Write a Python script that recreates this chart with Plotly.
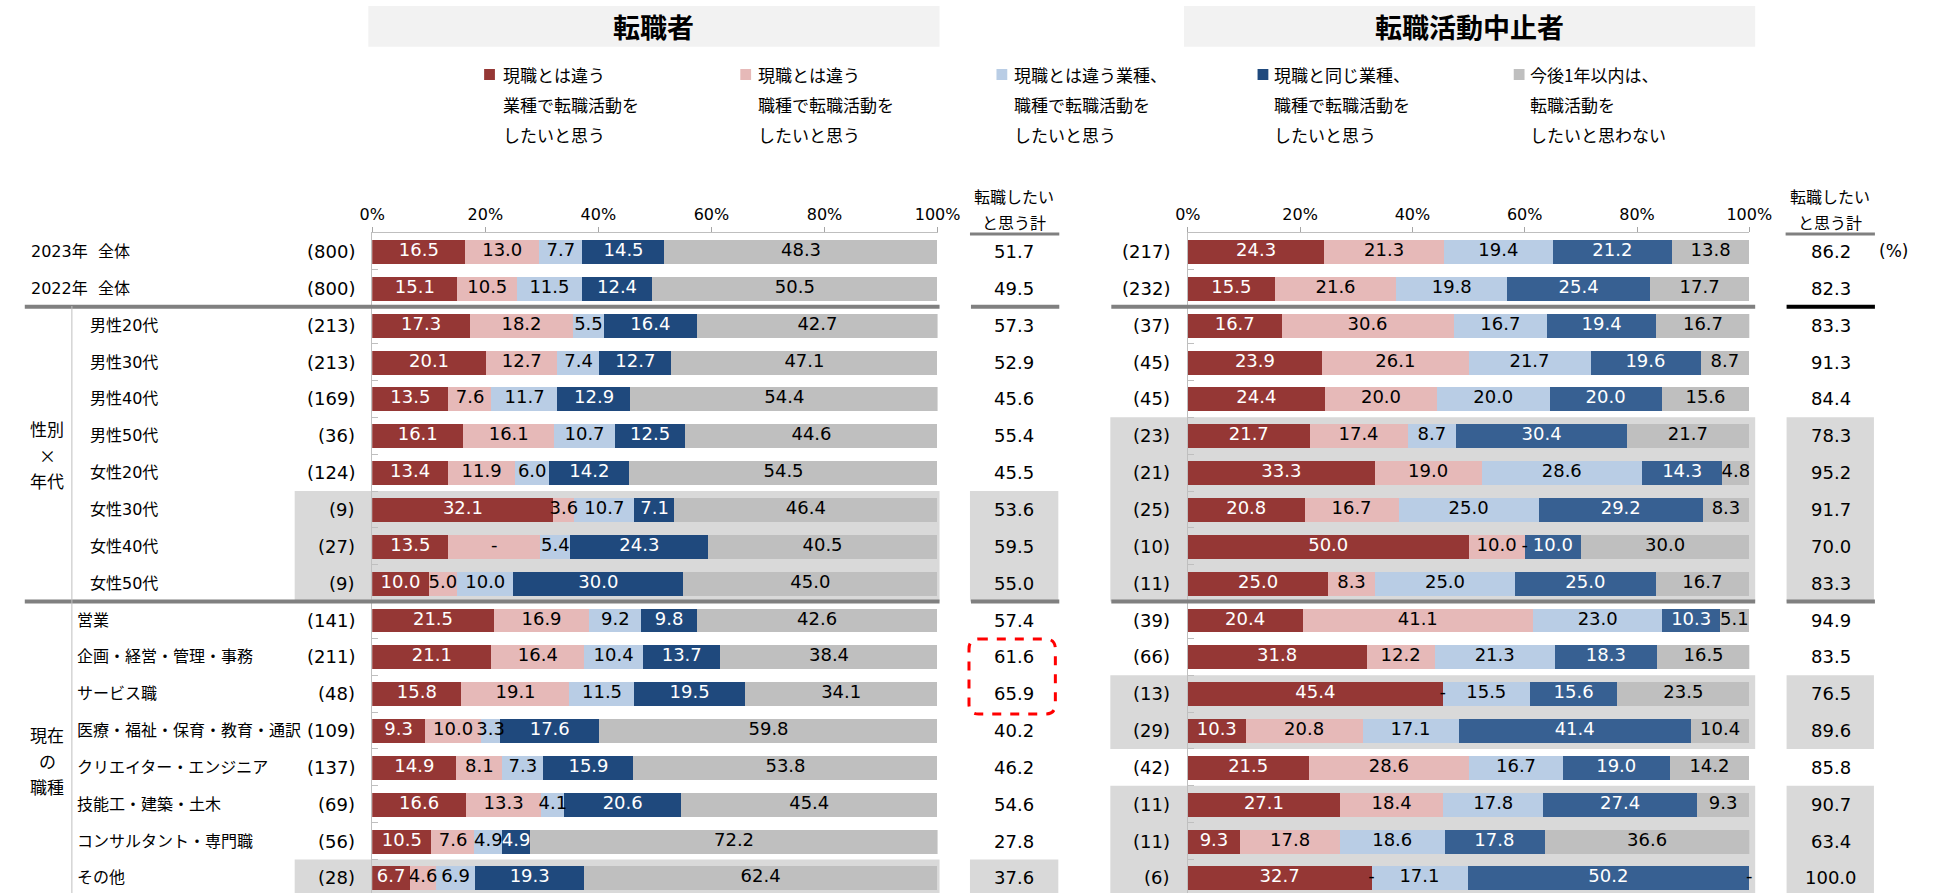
import plotly.graph_objects as go

W, H = 1947, 893

# ---------------- data ----------------
row_labels = ["2023年\u00a0\u00a0全体", "2022年\u00a0\u00a0全体",
              "男性20代", "男性30代", "男性40代", "男性50代",
              "女性20代", "女性30代", "女性40代", "女性50代",
              "営業", "企画・経営・管理・事務", "サービス職", "医療・福祉・保育・教育・通訳",
              "クリエイター・エンジニア", "技能工・建築・土木", "コンサルタント・専門職", "その他"]
n_left = [800, 800, 213, 213, 169, 36, 124, 9, 27, 9, 141, 211, 48, 109, 137, 69, 56, 28]
n_right = [217, 232, 37, 45, 45, 23, 21, 25, 10, 11, 39, 66, 13, 29, 42, 11, 11, 6]

series_names = ["現職とは違う業種で転職活動をしたいと思う",
                "現職とは違う職種で転職活動をしたいと思う",
                "現職とは違う業種、職種で転職活動をしたいと思う",
                "現職と同じ業種、職種で転職活動をしたいと思う",
                "今後1年以内は、転職活動をしたいと思わない"]
legend_lines = [["現職とは違う", "業種で転職活動を", "したいと思う"],
                ["現職とは違う", "職種で転職活動を", "したいと思う"],
                ["現職とは違う業種、", "職種で転職活動を", "したいと思う"],
                ["現職と同じ業種、", "職種で転職活動を", "したいと思う"],
                ["今後1年以内は、", "転職活動を", "したいと思わない"]]

left_red = [16.5, 15.1, 17.3, 20.1, 13.5, 16.1, 13.4, 32.1, 13.5, 10.0, 21.5, 21.1, 15.8, 9.3, 14.9, 16.6, 10.5, 6.7]
left_pink = [13.0, 10.5, 18.2, 12.7, 7.6, 16.1, 11.9, 3.6, 16.2, 5.0, 16.9, 16.4, 19.1, 10.0, 8.1, 13.3, 7.6, 4.6]
left_lblue = [7.7, 11.5, 5.5, 7.4, 11.7, 10.7, 6.0, 10.7, 5.4, 10.0, 9.2, 10.4, 11.5, 3.3, 7.3, 4.1, 4.9, 6.9]
left_dblue = [14.5, 12.4, 16.4, 12.7, 12.9, 12.5, 14.2, 7.1, 24.3, 30.0, 9.8, 13.7, 19.5, 17.6, 15.9, 20.6, 4.9, 19.3]
left_gray = [48.3, 50.5, 42.7, 47.1, 54.4, 44.6, 54.5, 46.4, 40.5, 45.0, 42.6, 38.4, 34.1, 59.8, 53.8, 45.4, 72.2, 62.4]
left_total = [51.7, 49.5, 57.3, 52.9, 45.6, 55.4, 45.5, 53.6, 59.5, 55.0, 57.4, 61.6, 65.9, 40.2, 46.2, 54.6, 27.8, 37.6]
# the printed label of this segment reads "-" in the source chart
left_pink_label_override = {8: "-"}

right_red = [24.3, 15.5, 16.7, 23.9, 24.4, 21.7, 33.3, 20.8, 50.0, 25.0, 20.4, 31.8, 45.4, 10.3, 21.5, 27.1, 9.3, 32.7]
right_pink = [21.3, 21.6, 30.6, 26.1, 20.0, 17.4, 19.0, 16.7, 10.0, 8.3, 41.1, 12.2, 0.0, 20.8, 28.6, 18.4, 17.8, 0.0]
right_lblue = [19.4, 19.8, 16.7, 21.7, 20.0, 8.7, 28.6, 25.0, 0.0, 25.0, 23.0, 21.3, 15.5, 17.1, 16.7, 17.8, 18.6, 17.1]
right_dblue = [21.2, 25.4, 19.4, 19.6, 20.0, 30.4, 14.3, 29.2, 10.0, 25.0, 10.3, 18.3, 15.6, 41.4, 19.0, 27.4, 17.8, 50.2]
right_gray = [13.8, 17.7, 16.7, 8.7, 15.6, 21.7, 4.8, 8.3, 30.0, 16.7, 5.1, 16.5, 23.5, 10.4, 14.2, 9.3, 36.6, 0.0]
right_total = [86.2, 82.3, 83.3, 91.3, 84.4, 78.3, 95.2, 91.7, 70.0, 83.3, 94.9, 83.5, 76.5, 89.6, 85.8, 90.7, 63.4, 100.0]

x_ticks = [0, 20, 40, 60, 80, 100]
x_ticktext = ["0%", "20%", "40%", "60%", "80%", "100%"]

# ---------------- style ----------------
RED = "#953735"
PINK = "#E6B9B8"
LBLUE = "#B9CDE5"
DBLUE_L = "#1F497D"
DBLUE_R = "#376092"
GRAY = "#BFBFBF"
HL = "#D9D9D9"
SEP = "#808080"
FONT = "DejaVu Sans, Noto Sans CJK JP, sans-serif"
JFONT = "Noto Sans CJK JP, DejaVu Sans, sans-serif"

ROW0, PITCH, AX_TOP = 251.5, 36.85, 232.5
y_range = [(H - ROW0) / PITCH, (AX_TOP - ROW0) / PITCH]
y_dom = [0, 1 - AX_TOP / H]


def px(x):
    return x / W


def py(y):
    return 1 - y / H


rows = list(range(len(row_labels)))
fig = go.Figure()

panels = [
    ("x", "y", [left_red, left_pink, left_lblue, left_dblue, left_gray],
     [RED, PINK, LBLUE, DBLUE_L, GRAY], {1: left_pink_label_override}),
    ("x2", "y2", [right_red, right_pink, right_lblue, right_dblue, right_gray],
     [RED, PINK, LBLUE, DBLUE_R, GRAY], {}),
]
text_colors = ["white", "black", "black", "white", "black"]

for xa, ya, series, colors, overrides in panels:
    cum = [0.0] * len(rows)
    for k, vals in enumerate(series):
        fig.add_trace(go.Bar(orientation="h", x=vals, y=rows, width=0.65,
                             marker=dict(color=colors[k], line=dict(width=0)),
                             name=series_names[k], xaxis=xa, yaxis=ya,
                             showlegend=False, hoverinfo="skip"))
        mids, labels = [], []
        for i, v in enumerate(vals):
            mids.append(cum[i] + v / 2)
            lab = f"{v:.1f}" if v > 0 else "-"
            lab = overrides.get(k, {}).get(i, lab)
            labels.append(lab)
            cum[i] += v
        fig.add_trace(go.Scatter(x=mids, y=rows, mode="text", text=labels,
                                 textposition="middle center",
                                 textfont=dict(family=FONT, size=18, color=text_colors[k]),
                                 xaxis=xa, yaxis=ya, showlegend=False,
                                 hoverinfo="skip", cliponaxis=False))

axis_common = dict(range=[0, 100], side="top", tickvals=x_ticks, ticktext=x_ticktext,
                   ticks="outside", ticklen=5, tickcolor="#A6A6A6", showline=True,
                   linecolor="#BFBFBF", linewidth=1, showgrid=False, zeroline=False,
                   tickfont=dict(family=FONT, size=16, color="black"), fixedrange=True)
yaxis_common = dict(range=y_range, domain=y_dom, showticklabels=False, showline=True,
                    linecolor="#BFBFBF", linewidth=1, ticks="inside", ticklen=6,
                    tickcolor="#BFBFBF", tickvals=[i + 0.5 for i in rows[:-1]],
                    showgrid=False, zeroline=False, fixedrange=True)

fig.update_layout(
    width=W, height=H, margin=dict(l=0, r=0, t=0, b=0),
    paper_bgcolor="white", plot_bgcolor="rgba(0,0,0,0)",
    barmode="stack", bargap=0, showlegend=False, hovermode=False,
    font=dict(family=FONT, size=16, color="black"),
    xaxis=dict(domain=[px(366), px(942)], anchor="y", **axis_common),
    xaxis2=dict(domain=[px(1197), px(1769)], anchor="y2", **axis_common),
    yaxis=dict(anchor="x", **yaxis_common),
    yaxis2=dict(anchor="x2", matches="y", **yaxis_common),
)

shapes = []
ann = []

# title boxes
for x0, x1, title, cx in [(362, 944, "転職者", 653), (1193, 1775, "転職活動中止者", 1484)]:
    shapes.append(dict(type="rect", xref="paper", yref="paper", x0=px(x0), x1=px(x1),
                       y0=py(46.7), y1=py(6), fillcolor="#F2F2F2", line=dict(width=0), layer="below"))
    ann.append(dict(text=f"<b>{title}</b>", x=px(cx), y=py(26), xref="paper", yref="paper",
                    showarrow=False, xanchor="center", yanchor="middle",
                    font=dict(family=JFONT, size=27, color="black")))

# legend (manual)
leg_marker_x = [480, 741, 1002, 1268, 1529]
leg_text_x = [497, 757, 1018, 1283, 1544]
leg_colors = [RED, PINK, LBLUE, DBLUE_L, GRAY]
for k in range(5):
    shapes.append(dict(type="rect", xref="paper", yref="paper", x0=px(leg_marker_x[k]),
                       x1=px(leg_marker_x[k] + 11), y0=py(80), y1=py(69),
                       fillcolor=leg_colors[k], line=dict(width=0)))
    for j, line in enumerate(legend_lines[k]):
        ann.append(dict(text=line, x=px(leg_text_x[k]), y=py([74, 104, 135][j]),
                        xref="paper", yref="paper", showarrow=False, xanchor="left",
                        yanchor="middle", font=dict(family=JFONT, size=17, color="black")))

# highlighted (small sample) rows
def runs(flags):
    out, start = [], None
    for i, f in enumerate(flags + [False]):
        if f and start is None:
            start = i
        if not f and start is not None:
            out.append((start, i - 1))
            start = None
    return out

for ns, spans in [(n_left, [(287, 944), (975, 1065)]), (n_right, [(1118, 1775), (1807, 1896)])]:
    for a, b in runs([n < 30 for n in ns]):
        for x0, x1 in spans:
            shapes.append(dict(type="rect", xref="paper", yref="y", x0=px(x0), x1=px(x1),
                               y0=a - 0.5, y1=b + 0.5, fillcolor=HL, line=dict(width=0),
                               layer="below"))

# separators
for yb in [1.5, 9.5]:
    for x0, x1, col in [(12, 944, SEP), (976, 1066, SEP), (1119, 1775, SEP),
                        (1807, 1897, "black" if yb == 1.5 else SEP)]:
        shapes.append(dict(type="line", xref="paper", yref="y", x0=px(x0), x1=px(x1),
                           y0=yb, y1=yb, line=dict(color=col, width=4)))
# header underlines of total columns
for x0, x1 in [(975, 1066), (1806, 1897)]:
    shapes.append(dict(type="line", xref="paper", yref="paper", x0=px(x0), x1=px(x1),
                       y0=py(234), y1=py(234), line=dict(color=SEP, width=3)))
# group divider
shapes.append(dict(type="line", xref="paper", yref="paper", x0=px(60), x1=px(60),
                   y0=py(306), y1=0, line=dict(color="#BFBFBF", width=1)))

# red dashed rounded box
x0, x1, y0, y1 = px(974), px(1062), py(639), py(714)
rx, ry = 10 / W, 10 / H
path = (f"M{x0+rx},{y0} L{x1-rx},{y0} Q{x1},{y0} {x1},{y0-ry} L{x1},{y1+ry} "
        f"Q{x1},{y1} {x1-rx},{y1} L{x0+rx},{y1} Q{x0},{y1} {x0},{y1+ry} "
        f"L{x0},{y0-ry} Q{x0},{y0} {x0+rx},{y0} Z")
shapes.append(dict(type="path", xref="paper", yref="paper", path=path,
                   line=dict(color="#FF0000", width=3, dash="dash")))

# row labels and numbers
for i in rows:
    lx = 16 if i < 2 else (76 if i < 10 else 63)
    ann.append(dict(text=row_labels[i], x=px(lx), y=i, xref="paper", yref="y",
                    showarrow=False, xanchor="left", yanchor="middle",
                    font=dict(family=FONT, size=16, color="black")))
    ann.append(dict(text=f"({n_left[i]})", x=px(350), y=i, xref="paper", yref="y",
                    showarrow=False, xanchor="right", yanchor="middle",
                    font=dict(family=FONT, size=18, color="black")))
    ann.append(dict(text=f"({n_right[i]})", x=px(1181), y=i, xref="paper", yref="y",
                    showarrow=False, xanchor="right", yanchor="middle",
                    font=dict(family=FONT, size=18, color="black")))
    ann.append(dict(text=f"{left_total[i]:.1f}", x=px(1020), y=i, xref="paper", yref="y",
                    showarrow=False, xanchor="center", yanchor="middle",
                    font=dict(family=FONT, size=18, color="black")))
    ann.append(dict(text=f"{right_total[i]:.1f}", x=px(1852), y=i, xref="paper", yref="y",
                    showarrow=False, xanchor="center", yanchor="middle",
                    font=dict(family=FONT, size=18, color="black")))

ann.append(dict(text="(%)", x=px(1916), y=0, xref="paper", yref="y", showarrow=False,
                xanchor="center", yanchor="middle", font=dict(family=FONT, size=17, color="black")))

# column headers
for cx in [1020, 1851]:
    for txt, yy in [("転職したい", 196), ("と思う計", 222)]:
        ann.append(dict(text=txt, x=px(cx), y=py(yy), xref="paper", yref="paper",
                        showarrow=False, xanchor="center", yanchor="middle",
                        font=dict(family=JFONT, size=16, color="black")))

# group labels
for txt, yy in [("性別", 428), ("×", 455), ("年代", 480), ("現在", 734), ("の", 760), ("職種", 786)]:
    ann.append(dict(text=txt, x=px(35), y=py(yy), xref="paper", yref="paper",
                    showarrow=False, xanchor="center", yanchor="middle",
                    font=dict(family=JFONT, size=17, color="black")))

fig.update_layout(shapes=shapes, annotations=ann)

fig.write_html("out.html", include_plotlyjs=True, full_html=True,
               config={"displayModeBar": False},
               post_script="document.body.style.margin='0';document.body.style.overflow='hidden';")
